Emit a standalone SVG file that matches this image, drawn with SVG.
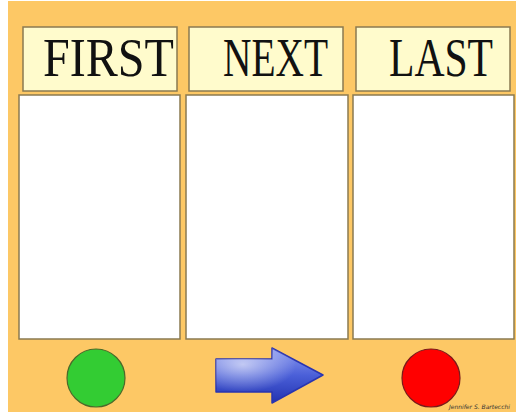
<svg xmlns="http://www.w3.org/2000/svg" width="516" height="414" viewBox="0 0 516 414">
<style>
.hdr{fill:#FFFBCC;stroke:#8A7A50;stroke-width:1.5}
.box{fill:#FFFFFF;stroke:#8A7A50;stroke-width:1.5}
.lbl{font-family:"Liberation Serif","Times New Roman",serif;font-size:54px;fill:#111}
</style>
<defs>
<linearGradient id="ag" x1="0" y1="0" x2="0" y2="1">
<stop offset="0" stop-color="#8E9CF0"/>
<stop offset="0.5" stop-color="#4A5FD8"/>
<stop offset="1" stop-color="#2233B0"/>
</linearGradient>
<radialGradient id="hl" cx="0.25" cy="0.3" r="0.5">
<stop offset="0" stop-color="#FFFFFF" stop-opacity="0.6"/>
<stop offset="1" stop-color="#FFFFFF" stop-opacity="0"/>
</radialGradient>
</defs>
<rect x="0" y="0" width="516" height="414" fill="#FFFFFF"/>
<rect x="8" y="1" width="508" height="411" fill="#FDC865"/>
<g id="first">
<rect class="hdr" x="23" y="27" width="154" height="64"/>
<text class="lbl" x="43" y="76" textLength="131" lengthAdjust="spacingAndGlyphs">FIRST</text>
<rect class="box" x="19" y="95" width="161" height="244"/>
</g>
<g id="next">
<rect class="hdr" x="189" y="27" width="154" height="64"/>
<text class="lbl" x="223" y="76" textLength="105" lengthAdjust="spacingAndGlyphs">NEXT</text>
<rect class="box" x="186" y="95" width="162" height="244"/>
</g>
<g id="last">
<rect class="hdr" x="356" y="27" width="154" height="64"/>
<text class="lbl" x="389" y="76" textLength="104" lengthAdjust="spacingAndGlyphs">LAST</text>
<rect class="box" x="353" y="95" width="161" height="244"/>
</g>
<g id="go">
<circle cx="96" cy="378" r="29" fill="#33CC33" stroke="#4A6A2A" stroke-width="1.2"/>
</g>
<g id="connectors">
<path d="M216,359 L272,359 L272,348 L323,375 L272,403 L272,392 L216,392 Z" fill="url(#ag)" stroke="#2A35B0" stroke-width="1.5" stroke-linejoin="round"/>
<path d="M216,359 L272,359 L272,348 L323,375 L272,403 L272,392 L216,392 Z" fill="url(#hl)"/>
</g>
<g id="stop">
<circle cx="431" cy="378" r="29" fill="#FF0000" stroke="#7A1A1A" stroke-width="1.2"/>
</g>
<text x="449" y="409" font-family="'DejaVu Sans',sans-serif" font-size="6" font-style="italic" fill="#333">Jennifer S. Bartecchi</text>
</svg>
